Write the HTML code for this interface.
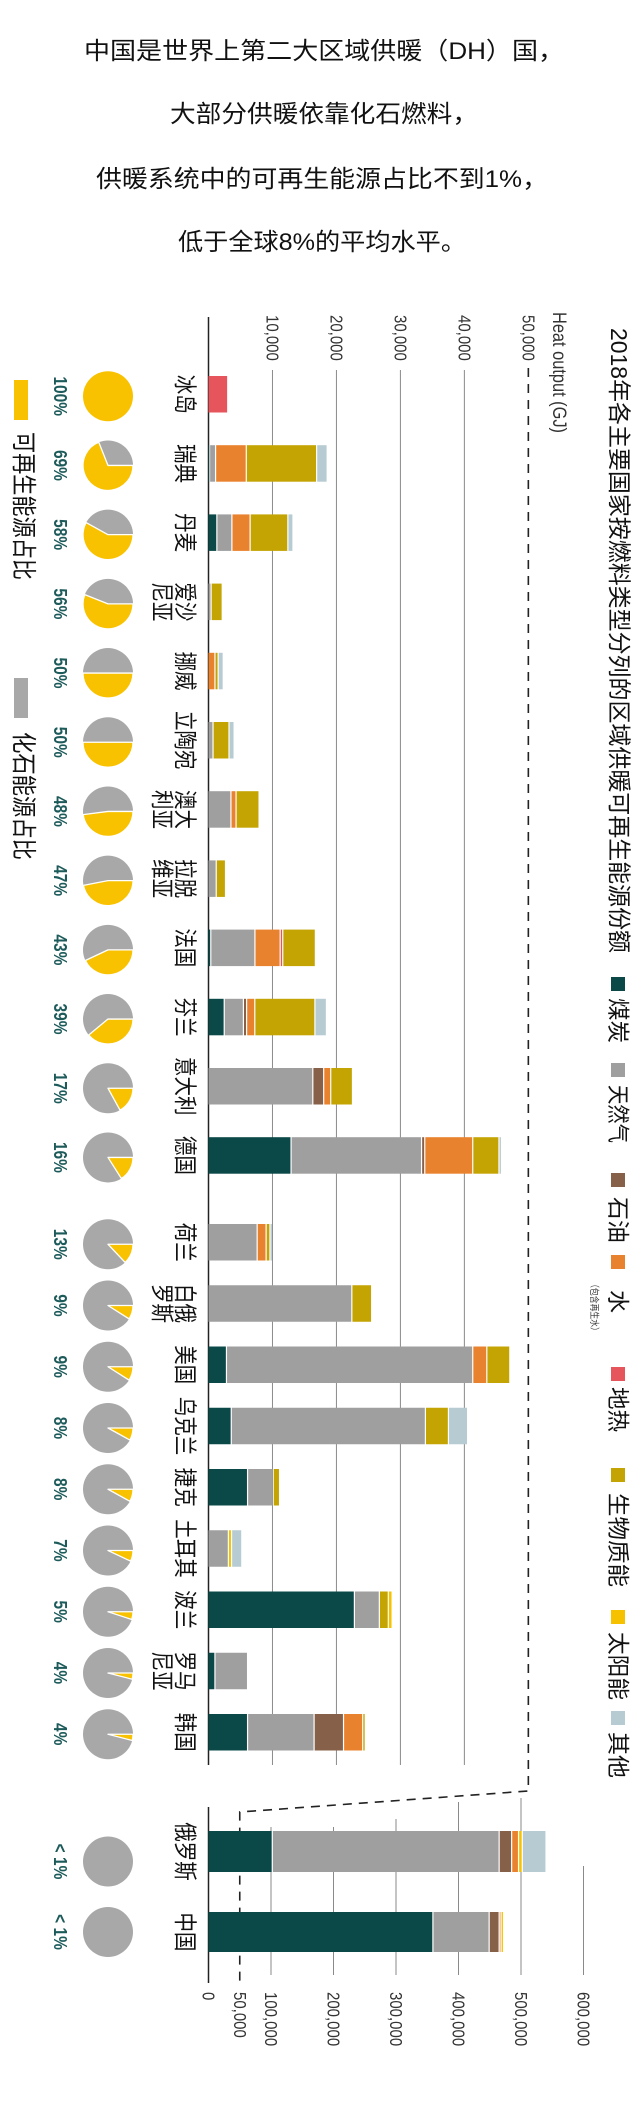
<!DOCTYPE html>
<html><head><meta charset="utf-8">
<style>
html,body{margin:0;padding:0;background:#fff;}
svg{display:block;font-family:"Liberation Sans","Noto Sans CJK SC",sans-serif;}
</style></head>
<body>
<svg id="chart" width="641" height="2108" viewBox="0 0 641 2108" xmlns="http://www.w3.org/2000/svg">
  <rect x="0" y="0" width="641" height="2108" fill="#fff"/>
  <g font-size="24" fill="#111">
    <text x="84" y="59" textLength="480" lengthAdjust="spacingAndGlyphs">中国是世界上第二大区域供暖（DH）国，</text>
    <text x="170" y="122" textLength="308" lengthAdjust="spacingAndGlyphs">大部分供暖依靠化石燃料，</text>
    <text x="96" y="187" textLength="452" lengthAdjust="spacingAndGlyphs">供暖系统中的可再生能源占比不到1%，</text>
    <text x="178" y="250" textLength="288" lengthAdjust="spacingAndGlyphs">低于全球8%的平均水平。</text>
  </g>
  <g id="grid"></g>
  <g id="bars"></g>
  <g id="labels"></g>
  <g id="pies"></g>
  <g id="legend"></g>
</svg>
<script>
// ---- data ----
const countries = ['冰岛','瑞典','丹麦','爱沙尼亚','挪威','立陶宛','澳大利亚','拉脱维亚','法国','芬兰','意大利','德国','荷兰','白俄罗斯','美国','乌克兰','捷克','土耳其','波兰','罗马尼亚','韩国'];
const countryLines = [['冰岛'],['瑞典'],['丹麦'],['爱沙','尼亚'],['挪威'],['立陶宛'],['澳大','利亚'],['拉脱','维亚'],['法国'],['芬兰'],['意大利'],['德国'],['荷兰'],['白俄','罗斯'],['美国'],['乌克兰'],['捷克'],['土耳其'],['波兰'],['罗马','尼亚'],['韩国']];
// thousand GJ
const coal  = [0,0.26,1.4,0,0,0,0,0,0.45,2.55,0,13.0,0,0,2.9,3.65,6.2,0,22.9,1.1,6.2];
const gas   = [0,0.94,2.35,0.5,0,0.8,3.6,1.3,6.9,3.0,16.4,20.4,7.7,22.5,38.5,30.35,4.0,3.2,3.9,5.1,10.4];
const oil   = [0,0,0,0,0,0,0,0,0,0.5,1.7,0.5,0,0,0,0,0,0,0,0,4.6];
const water = [0,4.8,2.85,0,1.1,0,0.8,0,3.95,1.28,1.1,7.5,1.4,0,2.2,0,0,0,0,0,3.0];
const geo   = [3.1,0,0,0,0,0,0,0,0.4,0,0,0,0,0,0,0,0,0,0,0,0];
const bio   = [0,11.0,5.9,1.74,0.5,2.5,3.6,1.45,5.1,9.4,3.4,4.1,0.6,3.1,3.6,3.6,1.0,0,1.4,0,0.4];
const solar = [0,0,0,0,0,0,0,0,0,0,0,0,0,0,0,0,0,0.5,0.6,0,0];
const other = [0,1.65,0.8,0,0.8,0.8,0,0,0,1.8,0,0.4,0.4,0,0,3.0,0,1.6,0,0,0];
const renewShare = [100,69,58,56,50,50,48,47,43,39,17,16,13,9,9,8,8,7,5,4,4];
const bigCountries = ['俄罗斯','中国'];
const bigCoal  = [103,360];
const bigGas   = [363,90];
const bigOil   = [20,16];
const bigWater = [11,3];
const bigGeo   = [0,0];
const bigBio   = [0,0];
const bigSolar = [6,4];
const bigOther = [38,0];
const bigShare = [0.5,0.5];
const bigShareLabels = ['< 1%','< 1%'];
const topTicks = [10000,20000,30000,40000];
const topTickLabels = ['10,000','20,000','30,000','40,000'];
const bottomTicks = [0,50000,100000,200000,300000,400000,500000,600000];
const bottomTickLabels = ['0','50,000','100,000','200,000','300,000','400,000','500,000','600,000'];
const fuelNames = ['煤炭','天然气','石油','水','地热','生物质能','太阳能','其他'];

// ---- styles / layout ----
const NS='http://www.w3.org/2000/svg';
const fuelColors=['#0b4848','#9f9f9f','#87604a','#e9822e','#e6555b','#c3a402','#f6c200','#b6cbd2'];
const fuelKeys=['coal','gas','oil','water','geothermal','biomass','solar','other'];
const X0=208.5;
const xTop=v=>X0+v*6.397;        // v in thousand GJ
const xBot=v=>X0+v*0.625;        // v in thousand GJ
const rowTop=i=> i<12 ? 376+69.2*i : 1224+61.25*(i-12);
const BAR_H=36.5;
const bigTop=[1831,1912], BIG_H=[41,40];

function el(tag,attrs,parent){const e=document.createElementNS(NS,tag);for(const k in attrs)e.setAttribute(k,attrs[k]);parent.appendChild(e);return e;}
function rt(parent,x,y,str,size,name,extra){
  const t=document.createElementNS(NS,'text');
  t.setAttribute('transform',`translate(${x},${y}) scale(1.2,1) rotate(90)`);
  t.setAttribute('font-size',size);
  t.setAttribute('text-anchor',(extra&&extra.anchor)||'middle');
  t.setAttribute('fill',(extra&&extra.fill)||'#111');
  if(extra&&extra.weight)t.setAttribute('font-weight',extra.weight);
  if(extra&&extra.len){t.setAttribute('textLength',extra.len);t.setAttribute('lengthAdjust','spacingAndGlyphs');}
  
  
  t.textContent=str;parent.appendChild(t);return t;
}
const grid=document.getElementById('grid'),bars=document.getElementById('bars'),labels=document.getElementById('labels'),pies=document.getElementById('pies'),legend=document.getElementById('legend');

// grid top
topTicks.forEach((v,i)=>{
  const x=xTop(v/1000);
  const l=el('line',{x1:x,x2:x,y1:370,y2:1765,stroke:'#8a8a8a','stroke-width':1},grid);
  
  
  rt(grid,x-6,315,topTickLabels[i],15,'top-tick-label',{anchor:'start',fill:'#333'});
});
rt(grid,xTop(50)-6,315,'50,000',15,'top-tick-label',{anchor:'start',fill:'#333'});
rt(grid,553,312,'Heat output (GJ)',16,'axis-title',{anchor:'start',fill:'#333',len:121});
const ax=el('line',{x1:X0,x2:X0,y1:317,y2:1765,stroke:'#222','stroke-width':1.5},grid);


const dash=el('path',{d:`M${xTop(50)},368 L${xTop(50)},1791 L${xBot(50)},1812 L${xBot(50)},1982`,fill:'none',stroke:'#222','stroke-width':1.6,'stroke-dasharray':'9,7'},grid);


// grid bottom
const botStarts={100000:1827,200000:1827,300000:1819,400000:1802,500000:1798,600000:1866};
bottomTicks.forEach((v,i)=>{
  const x=xBot(v/1000);
  if(botStarts[v]){
    const l=el('line',{x1:x,x2:x,y1:botStarts[v],y2:1975,stroke:'#8a8a8a','stroke-width':1},grid);
    
    
  }
  rt(grid,x-6,1992,bottomTickLabels[i],15,'bottom-tick-label',{anchor:'start',fill:'#333'});
});
const ax2=el('line',{x1:X0,x2:X0,y1:1807,y2:1983,stroke:'#222','stroke-width':1.5},grid);



// bars
function drawBar(vals,xf,y,h,cname){
  let acc=0;
  vals.forEach((v,k)=>{
    if(v<=0)return;
    const x1=xf(acc),x2=xf(acc+v);acc+=v;
    const r=el('rect',{x:x1,y:y,width:Math.max(x2-x1-1.2,0.6),height:h,fill:fuelColors[k]},bars);
    
    
  });
}
function drawPie(cx,cy,share,name){
  const r=25,g=el('g',{},pies);
  
  
  el('circle',{cx:cx,cy:cy,r:r,fill:share>=100?'#f8c200':'#a8a8a9'},g);
  if(share>=1&&share<100){
    const a=share/100*2*Math.PI;
    const ex=cx+r*Math.cos(a),ey=cy+r*Math.sin(a);
    const p=el('path',{d:`M${cx},${cy} L${cx+r},${cy} A${r},${r} 0 ${a>Math.PI?1:0} 1 ${ex},${ey} Z`,fill:'#f8c200',stroke:'#fff','stroke-width':1.3,'stroke-linejoin':'round'},g);
    
    
  }
}
countries.forEach((c,i)=>{
  const y=rowTop(i),cy=y+BAR_H/2;
  drawBar([coal[i],gas[i],oil[i],water[i],geo[i],bio[i],solar[i],other[i]],xTop,y,BAR_H,'c'+i);
  const lines=countryLines[i];
  lines.forEach((s,j)=>rt(labels,177-23*j,cy,s,19.5,'country-label'));
  drawPie(108,cy+2,renewShare[i],'pie-'+i);
  rt(labels,54,cy+2,renewShare[i]+'%',15.5,'renewable-percent',{fill:'#1d5a5a',weight:'bold'});
});
bigCountries.forEach((c,i)=>{
  const y=bigTop[i],cy=y+BIG_H[i]/2;
  drawBar([bigCoal[i],bigGas[i],bigOil[i],bigWater[i],bigGeo[i],bigBio[i],bigSolar[i],bigOther[i]],xBot,y,BIG_H[i],'big'+i);
  rt(labels,177,cy,c,19.5,'country-label');
  const pcy=i===0?cy+10:cy;
  drawPie(108,pcy,bigShare[i],'pie-big-'+i);
  rt(labels,54,pcy,bigShareLabels[i],15.5,'renewable-percent',{fill:'#1d5a5a',weight:'bold'});
});

// right legend
rt(legend,611,328,'2018年各主要国家按燃料类型分列的区域供暖可再生能源份额',19.5,'chart-title',{anchor:'start',len:625});
const legSq=[977,1063,1173,1255,1367,1468,1610,1711];
const legTx=[[998,45],[1085,58],[1197,46],[1290,23],[1387,45],[1493,94],[1632,68],[1732,46]];
fuelNames.forEach((n,k)=>{
  const r=el('rect',{x:611,y:legSq[k],width:14,height:14,fill:fuelColors[k]},legend);
  
  
  rt(legend,610,legTx[k][0],n,19,'legend-label-'+fuelKeys[k],{anchor:'start',len:legTx[k][1]});
});
rt(legend,591,1280,'（包含再生水）',8,'legend-note-water',{anchor:'start',fill:'#333',len:55});

// left legend
const ly=el('rect',{x:14,y:380,width:14,height:40,fill:'#f8c200'},legend);


rt(legend,15,432,'可再生能源占比',21,'legend-label-renewable',{anchor:'start',len:148});
const lg=el('rect',{x:14,y:678,width:14,height:40,fill:'#a8a8a9'},legend);


rt(legend,15,732,'化石能源占比',21,'legend-label-fossil',{anchor:'start',len:128});
</script>
</body></html>
